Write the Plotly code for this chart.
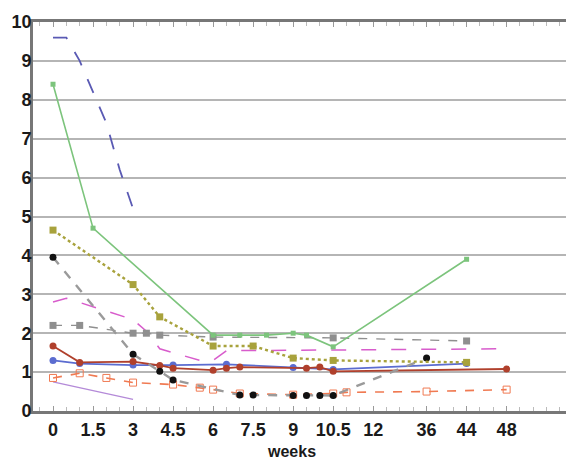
import plotly.graph_objects as go

# ---- axis ticks (weeks) ----
tick_weeks = [0, 1.5, 3, 4.5, 6, 7.5, 9, 10.5, 12, 36, 44, 48]
tick_labels = ["0", "1.5", "3", "4.5", "6", "7.5", "9", "10.5", "12", "36", "44", "48"]

# slots on the (broken) week axis: half-week slots up to 12, then compressed
late_slots = {36: 28, 44: 31, 48: 34}


def slot(w):
    return 2 * w if w <= 12 else late_slots[w]


# ---- series (weeks, value) ----
blue_dash_w = [0, 0.5, 1, 1.5, 2, 2.5, 3]
blue_dash_v = [9.6, 9.6, 9.0, 8.2, 7.4, 6.2, 5.2]

green_w = [0, 1.5, 6, 7, 8, 9, 9.5, 10.5, 44]
green_v = [8.4, 4.7, 1.95, 1.95, 1.95, 2.0, 1.95, 1.65, 3.9]

olive_w = [0, 3, 4, 6, 7.5, 9, 10.5, 44]
olive_v = [4.65, 3.25, 2.42, 1.67, 1.67, 1.36, 1.3, 1.25]

black_w = [0, 3, 4, 4.5, 7, 7.5, 9, 9.5, 10, 10.5, 36]
black_v = [3.95, 1.46, 1.02, 0.8, 0.41, 0.41, 0.4, 0.4, 0.4, 0.4, 1.36]

gray_w = [0, 1, 3, 3.5, 4, 6, 10.5, 44]
gray_v = [2.2, 2.2, 2.0, 2.0, 1.95, 1.9, 1.88, 1.8]

pink_w = [0, 0.5, 3, 3.5, 4, 5, 5.5, 6, 6.5, 48]
pink_v = [2.8, 2.9, 2.35, 2.05, 1.6, 1.4, 1.3, 1.3, 1.55, 1.6]

red_w = [0, 1, 3, 4, 4.5, 6, 6.5, 7, 9.5, 10, 10.5, 48]
red_v = [1.67, 1.25, 1.27, 1.17, 1.1, 1.05, 1.1, 1.13, 1.1, 1.13, 1.02, 1.08]

blue_w = [0, 1, 3, 4.5, 6.5, 9, 10.5, 44]
blue_v = [1.3, 1.22, 1.18, 1.18, 1.2, 1.12, 1.07, 1.22]

orange_w = [0, 1, 2, 3, 4.5, 5.5, 6, 7, 9, 10.5, 11, 36, 48]
orange_v = [0.85, 0.97, 0.85, 0.73, 0.68, 0.6, 0.55, 0.45, 0.42, 0.45, 0.48, 0.5, 0.55]

purple_w = [0, 3]
purple_v = [0.75, 0.3]

fig = go.Figure()


def add(ws, vs, color, dash="solid", width=1.6, mode="lines", symbol="circle",
        msize=6, mcolor=None, mline=None):
    fig.add_trace(go.Scatter(
        x=[slot(w) for w in ws], y=vs, mode=mode,
        line=dict(color=color, dash=dash, width=width),
        marker=dict(symbol=symbol, size=msize, color=mcolor or color,
                    line=mline or dict(width=0)),
        showlegend=False, hoverinfo="skip"))


add(purple_w, purple_v, "#b48ad8", width=1.4)
add(orange_w, orange_v, "#f07a52", dash="dash", width=1.6, mode="lines+markers",
    symbol="square-open", msize=7)
add(blue_w, blue_v, "#5b6cd0", width=1.8, mode="lines+markers", msize=7)
add(red_w, red_v, "#b0402c", width=1.8, mode="lines+markers", msize=7)
add(pink_w, pink_v, "#d85ccc", dash="longdash", width=1.5)
add(gray_w, gray_v, "#8f8f8f", dash="dash", width=1.4, mode="lines+markers",
    symbol="square", msize=7)
add(black_w, black_v, "#9a9a9a", dash="dash", width=2.4, mode="lines+markers",
    msize=7, mcolor="#111111")
add(olive_w, olive_v, "#a8a23c", dash="dot", width=2.4, mode="lines+markers",
    symbol="square", msize=7)
add(green_w, green_v, "#7cc47c", width=1.6, mode="lines+markers",
    symbol="square", msize=5)
add(blue_dash_w, blue_dash_v, "#5a5ab4", dash="longdash", width=1.8)

font_tick = dict(family="Liberation Sans, Arial, sans-serif", size=18, color="#1a1a1a")

# page body has an 8px margin, so the figure is sized/offset to compensate
fig.update_layout(
    width=566, height=452,
    margin=dict(l=25, r=2, t=14, b=49),
    paper_bgcolor="white", plot_bgcolor="white",
    xaxis=dict(
        range=[-1.5, 38.9], automargin=False,
        tickmode="array",
        tickvals=[slot(w) for w in tick_weeks],
        ticktext=["<b>%s</b>" % t for t in tick_labels],
        tickfont=font_tick,
        ticks="inside", ticklen=5, tickcolor="#999999", tickwidth=1,
        minor=dict(dtick=1, tick0=0, ticks="inside", ticklen=4, tickcolor="#bbbbbb"),
        showgrid=False, zeroline=False,
        showline=True, linecolor="#777777", linewidth=3, mirror="ticks",
    ),
    yaxis=dict(
        range=[0, 10], automargin=False,
        tickmode="linear", tick0=0, dtick=1,
        tickfont=font_tick,
        tickprefix="<b>", ticksuffix="</b>",
        ticks="", ticklabelstandoff=-5,
        showgrid=True, gridcolor="#b5b5b5", gridwidth=2,
        zeroline=False,
        showline=True, linecolor="#777777", linewidth=3,
    ),
    shapes=[dict(type="line", xref="paper", yref="paper", x0=1, x1=1, y0=0, y1=1,
                 line=dict(color="#aaaaaa", width=1.5))],
    annotations=[dict(text="<b>weeks</b>", xref="paper", yref="paper",
                      x=0.48, y=0, yshift=-40, showarrow=False,
                      font=dict(family="Liberation Sans, Arial, sans-serif", size=16,
                                color="#1a1a1a"),
                      xanchor="center", yanchor="middle")],
)

fig.write_html("out.html")
